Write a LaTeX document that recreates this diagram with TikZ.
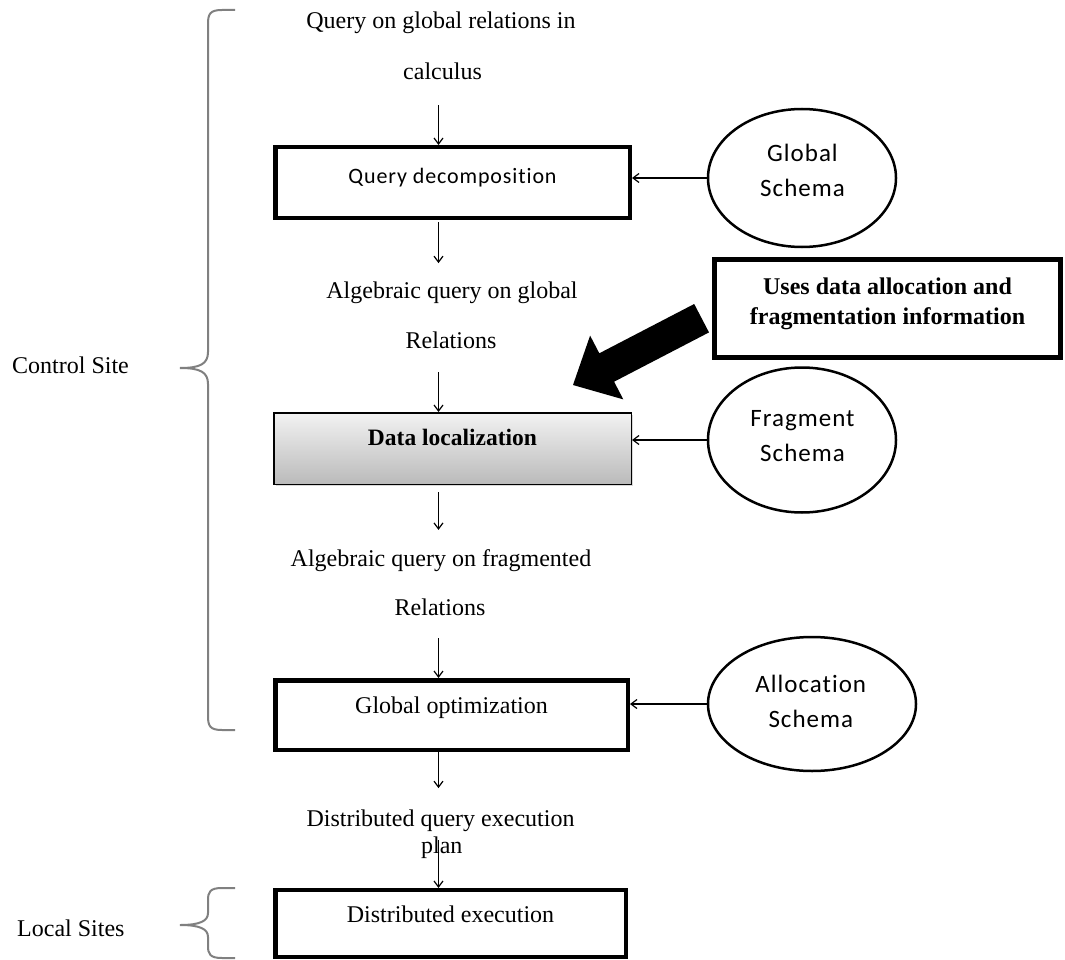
\documentclass[tikz,border=0pt]{standalone}
\usepackage{fontspec}
\setmainfont{Liberation Serif}
\newfontfamily\calibri[Ligatures=NoCommon,LetterSpace=4]{Carlito}
\usetikzlibrary{arrows.meta,shadows,shapes.geometric}
\begin{document}
\begin{tikzpicture}[x=1pt,y=-1pt,
  arr/.style={draw=black,line width=1.2pt,-{Straight Barb[length=6pt,width=9pt]}},
  lbl/.style={inner sep=0pt,font=\fontsize{24}{28}\selectfont,anchor=base},
  sidelbl/.style={inner sep=0pt,font=\fontsize{24}{28}\selectfont,anchor=base west},
  thickbox/.style={rectangle,draw=black,line width=4.5pt,fill=white,inner sep=0pt,
    font=\fontsize{24}{28}\selectfont,
    drop shadow={shadow xshift=2pt,shadow yshift=-2pt,fill=black!30}},
  gradbox/.style={rectangle,draw=black,line width=1.5pt,inner sep=0pt,
    top color=black!5,bottom color=black!27,
    font=\fontsize{23.5}{28}\selectfont\bfseries,
    drop shadow={shadow xshift=2pt,shadow yshift=-2pt,fill=black!30}},
  schema/.style={ellipse,draw=black,line width=2.5pt,fill=white,inner sep=0pt},
  schematxt/.style={inner sep=0pt,align=center,font=\calibri\fontsize{25}{35}\selectfont},
  bracestyle/.style={draw=black!50,line width=2pt},
  bigbox/.style={rectangle,draw=black,line width=5pt,fill=white,inner sep=0pt,
    drop shadow={shadow xshift=2pt,shadow yshift=-2pt,fill=black!35}},
  bigtxt/.style={inner sep=0pt,align=center,font=\fontsize{24}{30}\selectfont\bfseries}
]
\useasboundingbox (0,0) rectangle (1065,960);
\fill[white] (0,0) rectangle (1065,960);

\coordinate (ax) at (438.5,0);

% central column labels
\node[lbl] (t1a) at (441,29) {Query on global relations in};
\node[lbl] (t1b) at (442.5,80) {calculus};
\node[lbl] (t2a) at (452,298) {Algebraic query on global};
\node[lbl] (t2b) at (451,348) {Relations};
\node[lbl] (t3a) at (441,566) {Algebraic query on fragmented};
\node[lbl] (t3b) at (440,615) {Relations};
\node[lbl] (t4a) at (440.5,826) {Distributed query execution};
\node[lbl] (t4b) at (441.8,853) {plan};

% boxes
\node[thickbox,minimum width=354.5pt,minimum height=70.5pt,
      font=\calibri\fontsize{22}{28}\selectfont,text height=16pt,text depth=13pt]
      (qd) at (452.5,182.5) {Query decomposition};
\node[gradbox,minimum width=357.5pt,minimum height=71.5pt,text height=16pt,text depth=23pt]
      (dl) at (452.5,448.5) {Data localization};
\node[thickbox,minimum width=352.5pt,minimum height=69.5pt,text height=16pt,text depth=20pt]
      (go) at (451.5,715) {Global optimization};
\node[thickbox,minimum width=350.5pt,minimum height=66.75pt,text height=16pt,text depth=18pt]
      (de) at (450.5,923.6) {Distributed execution};

% schemas
\node[schema,minimum width=188pt,minimum height=138pt] (gs) at (802,178) {};
\node[schematxt] (gstxt) at (802.5,170.25) {Global\\Schema};
\node[schema,minimum width=188pt,minimum height=145pt] (fs) at (802,440) {};
\node[schematxt] (fstxt) at (802.5,436.25) {Fragment\\Schema};
\node[schema,minimum width=208pt,minimum height=134pt] (as) at (812,704) {};
\node[schematxt] (astxt) at (810.8,701.25) {Allocation\\Schema};

% bold box
\node[bigbox,minimum width=346pt,minimum height=98pt] (uses) at (887.5,308.5) {};
\node[bigtxt] (usestxt) at (887.5,303.5) {Uses data allocation and\\fragmentation information};

% big block arrow
\fill[black] (573,385) -- (623.3,399.4) -- (614.1,381.7) -- (709,332.4)
  -- (694.2,304) -- (599.3,353.3) -- (590.1,335.6) -- cycle;

% vertical connectors
\draw[arr,shorten <=25pt] (t1b.south -| ax) -- (qd.north -| ax);
\draw[arr,shorten <=2pt,shorten >=18pt] (qd.south -| ax) -- (t2a.north -| ax);
\draw[arr,shorten <=24pt] (t2b.south -| ax) -- (dl.north -| ax);
\draw[arr,shorten <=7pt,shorten >=19pt] (dl.south -| ax) -- (t3a.north -| ax);
\draw[arr,shorten <=23pt] (t3b.south -| ax) -- (go.north -| ax);
\draw[arr,shorten >=21pt] (go.south -| ax) -- (t4a.north -| ax);
\draw[arr,shorten <=9pt] (t4a.south -| ax) -- (de.north -| ax);

% horizontal connectors
\draw[arr] (gs.west) -- (gs.west -| qd.east);
\draw[arr] (fs.west) -- (fs.west -| dl.east);
\draw[arr] (as.west) -- (as.west -| go.east);

% braces and side labels
\node[sidelbl] (cs) at (12,373) {Control Site};
\node[sidelbl] (ls) at (17,936) {Local Sites};
\draw[bracestyle] (235,10) -- (222,10) .. controls (210,10) and (208,14) .. (208,24)
  -- (208,352) .. controls (208,364) and (200,368) .. (180,368)
  .. controls (200,368) and (208,372) .. (208,384)
  -- (208,716) .. controls (208,726) and (210,730) .. (222,730) -- (235,730);
\draw[bracestyle] (235,888) -- (222,888) .. controls (210,888) and (208,892) .. (208,900)
  -- (208,913) .. controls (208,921) and (200,925) .. (180,925)
  .. controls (200,925) and (208,929) .. (208,937)
  -- (208,946) .. controls (208,954) and (210,958) .. (222,958) -- (235,958);
\end{tikzpicture}
\end{document}
